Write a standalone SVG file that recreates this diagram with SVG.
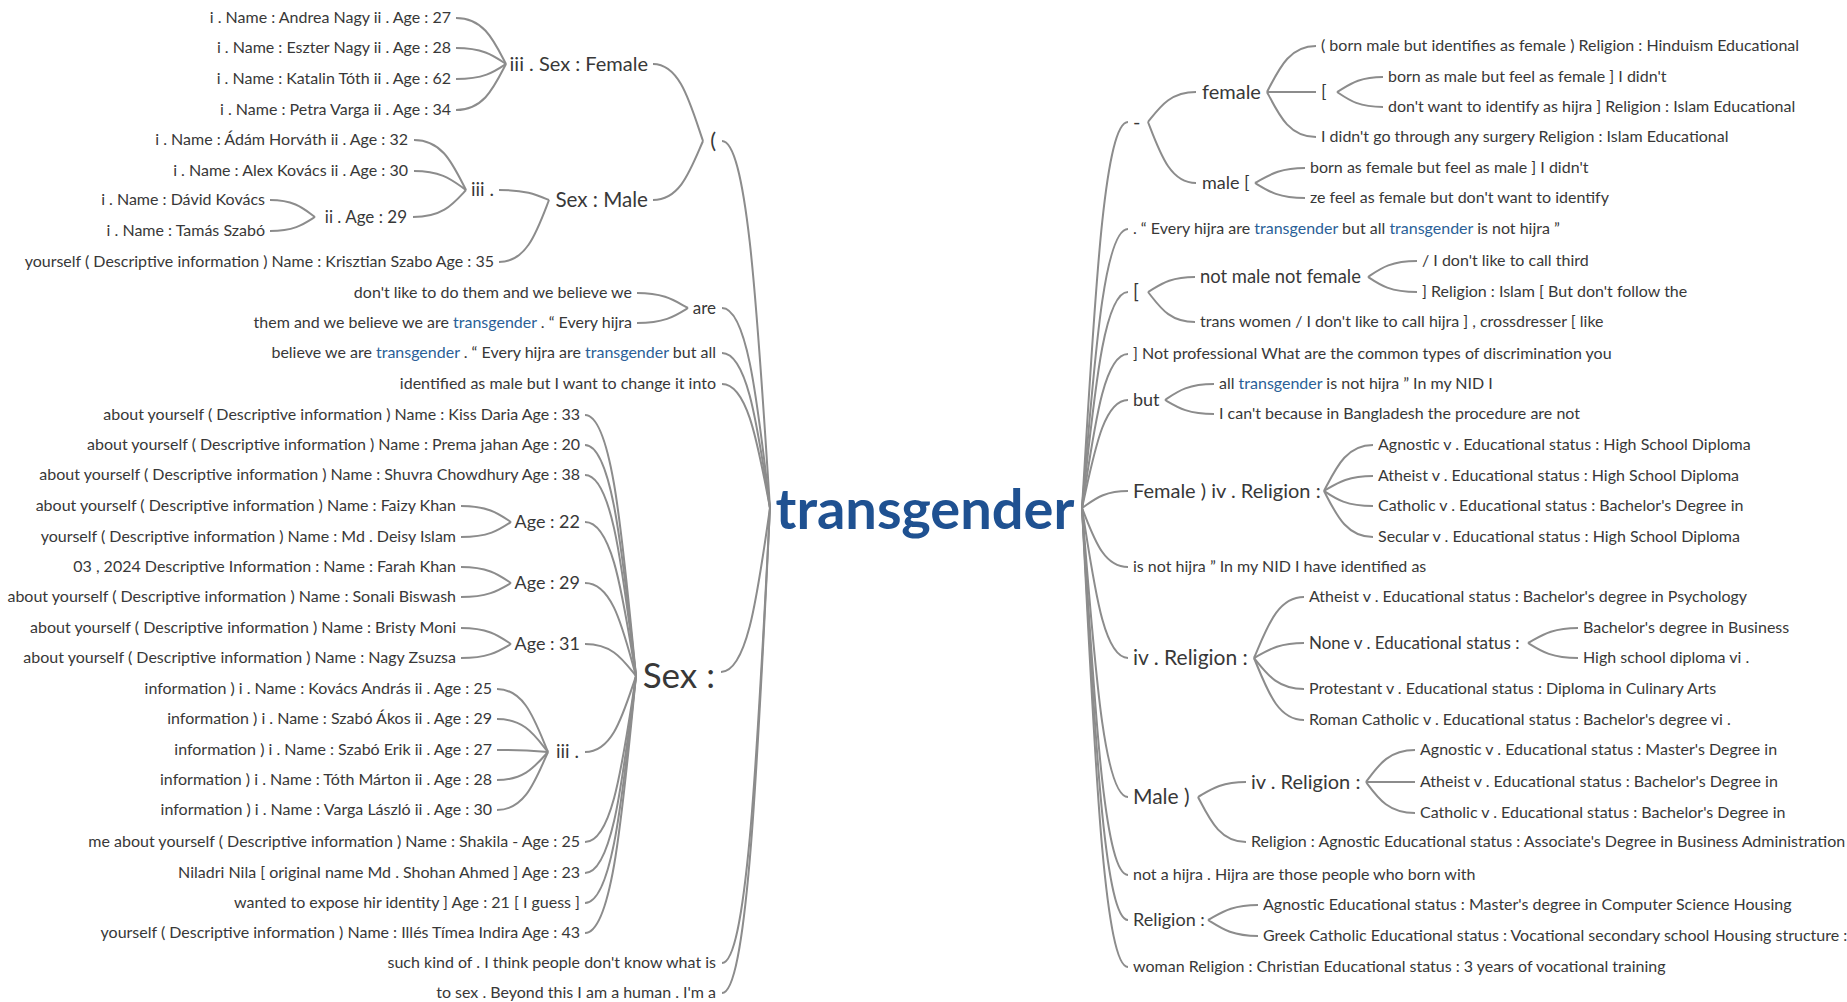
<svg xmlns="http://www.w3.org/2000/svg" width="1847" height="1002" viewBox="0 0 1847 1002">
<style>
text{font-family:Lato,"Liberation Sans",sans-serif;fill:#383838;font-size:16px}
.L{text-anchor:end}
.s17{font-size:17px}.s18{font-size:18px}.s19{font-size:19px}.s20{font-size:20px}.s21{font-size:21px}.s22{font-size:22px}
.hl{fill:#2a5f98}
.ctr{font-size:56px;font-weight:bold;fill:#1f5191}
#connectors path{fill:none;stroke:#8c8c8c;stroke-width:2}
</style>
<rect width="1847" height="1002" fill="#ffffff"/>
<g id="connectors">
<path d="M770,508 C758,325 748,141 722,141"/>
<path d="M770,508 C758,408 748,308 722,308"/>
<path d="M770,508 C758,431 748,353 722,353"/>
<path d="M770,508 C758,446 748,384 722,384"/>
<path d="M770,508 C758,590 748,672 721,672"/>
<path d="M770,508 C758,736 748,963 722,963"/>
<path d="M770,508 C758,751 748,993 722,993"/>
<path d="M703,141 C690,103 680,64 653,64"/>
<path d="M703,141 C690,171 680,200 653,200"/>
<path d="M506,64 C494,41 484,18 456,18"/>
<path d="M506,64 C494,56 484,48 456,48"/>
<path d="M506,64 C494,72 484,79 456,79"/>
<path d="M506,64 C494,87 484,110 456,110"/>
<path d="M549,200 C537,195 527,190 499,190"/>
<path d="M549,200 C537,231 527,262 499,262"/>
<path d="M466,190 C453,165 443,140 414,140"/>
<path d="M466,190 C453,181 443,171 414,171"/>
<path d="M466,190 C453,204 443,217 413,217"/>
<path d="M315,217 C304,209 295,200 270,200"/>
<path d="M315,217 C304,224 295,231 270,231"/>
<path d="M688,308 C675,301 665,293 637,293"/>
<path d="M688,308 C675,316 665,323 637,323"/>
<path d="M636,676 C623,546 613,415 585,415"/>
<path d="M636,676 C623,561 613,445 585,445"/>
<path d="M636,676 C623,576 613,475 585,475"/>
<path d="M636,676 C623,599 613,522 585,522"/>
<path d="M636,676 C623,630 613,583 585,583"/>
<path d="M636,676 C623,660 613,644 585,644"/>
<path d="M636,676 C623,714 613,752 585,752"/>
<path d="M636,676 C623,759 613,842 585,842"/>
<path d="M636,676 C623,775 613,873 585,873"/>
<path d="M636,676 C623,790 613,903 585,903"/>
<path d="M636,676 C623,805 613,933 585,933"/>
<path d="M511,522 C499,514 489,506 461,506"/>
<path d="M511,522 C499,530 489,537 461,537"/>
<path d="M511,583 C499,575 489,567 461,567"/>
<path d="M511,583 C499,590 489,597 461,597"/>
<path d="M511,644 C499,636 489,628 461,628"/>
<path d="M511,644 C499,651 489,658 461,658"/>
<path d="M548,752 C535,721 525,689 497,689"/>
<path d="M548,752 C535,736 525,719 497,719"/>
<path d="M548,752 C535,751 525,750 497,750"/>
<path d="M548,752 C535,766 525,780 497,780"/>
<path d="M548,752 C535,781 525,810 497,810"/>
<path d="M1082,508 C1094,315 1103,122 1128,122"/>
<path d="M1082,508 C1094,369 1103,229 1128,229"/>
<path d="M1082,508 C1094,400 1103,292 1128,292"/>
<path d="M1082,508 C1094,431 1103,354 1128,354"/>
<path d="M1082,508 C1094,454 1103,400 1128,400"/>
<path d="M1082,508 C1094,500 1103,491 1128,491"/>
<path d="M1082,508 C1094,538 1103,567 1128,567"/>
<path d="M1082,508 C1094,583 1103,658 1128,658"/>
<path d="M1082,508 C1094,653 1103,797 1128,797"/>
<path d="M1082,508 C1094,692 1103,875 1128,875"/>
<path d="M1082,508 C1094,714 1103,920 1128,920"/>
<path d="M1082,508 C1094,738 1103,967 1128,967"/>
<path d="M1148,122 C1160,107 1170,92 1196,92"/>
<path d="M1148,122 C1160,153 1170,183 1196,183"/>
<path d="M1267,92 C1279,69 1289,46 1316,46"/>
<path d="M1267,92 L1316,92"/>
<path d="M1267,92 C1279,115 1289,137 1316,137"/>
<path d="M1337,92 C1349,85 1358,77 1383,77"/>
<path d="M1337,92 C1349,100 1358,107 1383,107"/>
<path d="M1255,183 C1268,176 1278,168 1305,168"/>
<path d="M1255,183 C1268,191 1278,198 1305,198"/>
<path d="M1148,292 C1160,285 1169,277 1195,277"/>
<path d="M1148,292 C1160,307 1169,322 1195,322"/>
<path d="M1368,277 C1380,269 1390,261 1417,261"/>
<path d="M1368,277 C1380,285 1390,292 1417,292"/>
<path d="M1165,400 C1177,392 1187,384 1214,384"/>
<path d="M1165,400 C1177,407 1187,414 1214,414"/>
<path d="M1324,491 C1336,468 1346,445 1373,445"/>
<path d="M1324,491 C1336,484 1346,476 1373,476"/>
<path d="M1324,491 C1336,499 1346,506 1373,506"/>
<path d="M1324,491 C1336,514 1346,537 1373,537"/>
<path d="M1254,658 C1267,628 1277,597 1304,597"/>
<path d="M1254,658 C1267,651 1277,643 1304,643"/>
<path d="M1254,658 C1267,674 1277,689 1304,689"/>
<path d="M1254,658 C1267,689 1277,720 1304,720"/>
<path d="M1528,643 C1541,636 1551,628 1578,628"/>
<path d="M1528,643 C1541,651 1551,658 1578,658"/>
<path d="M1198,797 C1210,790 1220,782 1246,782"/>
<path d="M1198,797 C1210,820 1220,842 1246,842"/>
<path d="M1366,782 C1378,766 1388,750 1415,750"/>
<path d="M1366,782 L1415,782"/>
<path d="M1366,782 C1378,798 1388,813 1415,813"/>
<path d="M1208,920 C1221,913 1231,905 1258,905"/>
<path d="M1208,920 C1221,928 1231,936 1258,936"/>
</g>

<g id="n-center"><text class="ctr" x="925" y="529" text-anchor="middle">transgender</text></g>

<g id="n-paren"><text class="L s22" x="716" y="148">(</text></g>
<g id="n-sexfemale"><text class="L s20" x="648" y="71">iii . Sex : Female</text></g>
<g id="n-f1"><text class="L" x="451" y="23">i . Name : Andrea Nagy ii . Age : 27</text></g>
<g id="n-f2"><text class="L" x="451" y="53">i . Name : Eszter Nagy ii . Age : 28</text></g>
<g id="n-f3"><text class="L" x="451" y="84">i . Name : Katalin Tóth ii . Age : 62</text></g>
<g id="n-f4"><text class="L" x="451" y="115">i . Name : Petra Varga ii . Age : 34</text></g>
<g id="n-sexmale"><text class="L" style="font-size:20.6px" x="648" y="207">Sex : Male</text></g>
<g id="n-iii1"><text class="L s19" x="494" y="196">iii .</text></g>
<g id="n-m1"><text class="L" x="408" y="145">i . Name : Ádám Horváth ii . Age : 32</text></g>
<g id="n-m2"><text class="L" x="408" y="176">i . Name : Alex Kovács ii . Age : 30</text></g>
<g id="n-age29a"><text class="L s17" x="407" y="223">ii . Age : 29</text></g>
<g id="n-m3"><text class="L" x="265" y="205">i . Name : Dávid Kovács</text></g>
<g id="n-m4"><text class="L" x="265" y="236">i . Name : Tamás Szabó</text></g>
<g id="n-m5"><text class="L" x="494" y="267">yourself ( Descriptive information ) Name : Krisztian Szabo Age : 35</text></g>
<g id="n-are"><text class="L s17" x="716" y="314">are</text></g>
<g id="n-are1"><text class="L" x="632" y="298">don't like to do them and we believe we</text></g>
<g id="n-are2"><text class="L" x="632" y="328">them and we believe we are <tspan class="hl">transgender</tspan> . “ Every hijra</text></g>
<g id="n-believe"><text class="L" x="716" y="358">believe we are <tspan class="hl">transgender</tspan> . “ Every hijra are <tspan class="hl">transgender</tspan> but all</text></g>
<g id="n-identified"><text class="L" x="716" y="389">identified as male but I want to change it into</text></g>
<g id="n-sex"><text class="L" style="font-size:35px" x="715" y="688">Sex :</text></g>
<g id="n-s1"><text class="L" x="580" y="420">about yourself ( Descriptive information ) Name : Kiss Daria Age : 33</text></g>
<g id="n-s2"><text class="L" x="580" y="450">about yourself ( Descriptive information ) Name : Prema jahan Age : 20</text></g>
<g id="n-s3"><text class="L" x="580" y="480">about yourself ( Descriptive information ) Name : Shuvra Chowdhury Age : 38</text></g>
<g id="n-age22"><text class="L s18" x="580" y="528">Age : 22</text></g>
<g id="n-s4"><text class="L" x="456" y="511">about yourself ( Descriptive information ) Name : Faizy Khan</text></g>
<g id="n-s5"><text class="L" x="456" y="542">yourself ( Descriptive information ) Name : Md . Deisy Islam</text></g>
<g id="n-age29b"><text class="L s18" x="580" y="589">Age : 29</text></g>
<g id="n-s6"><text class="L" x="456" y="572">03 , 2024 Descriptive Information : Name : Farah Khan</text></g>
<g id="n-s7"><text class="L" x="456" y="602">about yourself ( Descriptive information ) Name : Sonali Biswash</text></g>
<g id="n-age31"><text class="L s18" x="580" y="650">Age : 31</text></g>
<g id="n-s8"><text class="L" x="456" y="633">about yourself ( Descriptive information ) Name : Bristy Moni</text></g>
<g id="n-s9"><text class="L" x="456" y="663">about yourself ( Descriptive information ) Name : Nagy Zsuzsa</text></g>
<g id="n-iii2"><text class="L s19" x="579" y="758">iii .</text></g>
<g id="n-s10"><text class="L" x="492" y="694">information ) i . Name : Kovács András ii . Age : 25</text></g>
<g id="n-s11"><text class="L" x="492" y="724">information ) i . Name : Szabó Ákos ii . Age : 29</text></g>
<g id="n-s12"><text class="L" x="492" y="755">information ) i . Name : Szabó Erik ii . Age : 27</text></g>
<g id="n-s13"><text class="L" x="492" y="785">information ) i . Name : Tóth Márton ii . Age : 28</text></g>
<g id="n-s14"><text class="L" x="492" y="815">information ) i . Name : Varga László ii . Age : 30</text></g>
<g id="n-s15"><text class="L" x="580" y="847">me about yourself ( Descriptive information ) Name : Shakila - Age : 25</text></g>
<g id="n-s16"><text class="L" x="580" y="878">Niladri Nila [ original name Md . Shohan Ahmed ] Age : 23</text></g>
<g id="n-s17"><text class="L" x="580" y="908">wanted to expose hir identity ] Age : 21 [ I guess ]</text></g>
<g id="n-s18"><text class="L" x="580" y="938">yourself ( Descriptive information ) Name : Illés Tímea Indira Age : 43</text></g>
<g id="n-such"><text class="L" x="716" y="968">such kind of . I think people don't know what is</text></g>
<g id="n-tosex"><text class="L" x="716" y="998">to sex . Beyond this I am a human . I'm a</text></g>

<g id="n-dash"><text class="s20" x="1133" y="129">-</text></g>
<g id="n-female"><text class="s20" x="1202" y="99">female</text></g>
<g id="n-r1"><text x="1321" y="51">( born male but identifies as female ) Religion : Hinduism Educational</text></g>
<g id="n-brk1"><text class="s18" x="1321" y="98">[</text></g>
<g id="n-r2"><text x="1388" y="82">born as male but feel as female ] I didn't</text></g>
<g id="n-r3"><text x="1388" y="112">don't want to identify as hijra ] Religion : Islam Educational</text></g>
<g id="n-r4"><text x="1321" y="142">I didn't go through any surgery Religion : Islam Educational</text></g>
<g id="n-male"><text class="s18" x="1202" y="189">male [</text></g>
<g id="n-r5"><text x="1310" y="173">born as female but feel as male ] I didn't</text></g>
<g id="n-r6"><text x="1310" y="203">ze feel as female but don't want to identify</text></g>
<g id="n-every"><text x="1133" y="234">. “ Every hijra are <tspan class="hl">transgender</tspan> but all <tspan class="hl">transgender</tspan> is not hijra ”</text></g>
<g id="n-brk2"><text class="s19" x="1133" y="298">[</text></g>
<g id="n-nmnf"><text style="font-size:18.4px" x="1200" y="283">not male not female</text></g>
<g id="n-r7"><text x="1422" y="266">/ I don't like to call third</text></g>
<g id="n-r8"><text x="1422" y="297">] Religion : Islam [ But don't follow the</text></g>
<g id="n-r9"><text x="1200" y="327">trans women / I don't like to call hijra ] , crossdresser [ like</text></g>
<g id="n-notprof"><text x="1133" y="359">] Not professional What are the common types of discrimination you</text></g>
<g id="n-but"><text class="s18" x="1133" y="406">but</text></g>
<g id="n-r10"><text x="1219" y="389">all <tspan class="hl">transgender</tspan> is not hijra ” In my NID I</text></g>
<g id="n-r11"><text x="1219" y="419">I can't because in Bangladesh the procedure are not</text></g>
<g id="n-femrel"><text class="s20" x="1133" y="498">Female ) iv . Religion :</text></g>
<g id="n-r12"><text x="1378" y="450">Agnostic v . Educational status : High School Diploma</text></g>
<g id="n-r13"><text x="1378" y="481">Atheist v . Educational status : High School Diploma</text></g>
<g id="n-r14"><text x="1378" y="511">Catholic v . Educational status : Bachelor's Degree in</text></g>
<g id="n-r15"><text x="1378" y="542">Secular v . Educational status : High School Diploma</text></g>
<g id="n-isnot"><text x="1133" y="572">is not hijra ” In my NID I have identified as</text></g>
<g id="n-ivrel1"><text class="s21" x="1133" y="665">iv . Religion :</text></g>
<g id="n-r16"><text x="1309" y="602">Atheist v . Educational status : Bachelor's degree in Psychology</text></g>
<g id="n-none"><text class="s17" x="1309" y="649">None v . Educational status :</text></g>
<g id="n-r17"><text x="1583" y="633">Bachelor's degree in Business</text></g>
<g id="n-r18"><text x="1583" y="663">High school diploma vi .</text></g>
<g id="n-r19"><text x="1309" y="694">Protestant v . Educational status : Diploma in Culinary Arts</text></g>
<g id="n-r20"><text x="1309" y="725">Roman Catholic v . Educational status : Bachelor's degree vi .</text></g>
<g id="n-maleparen"><text class="s21" x="1133" y="804">Male )</text></g>
<g id="n-ivrel2"><text class="s20" x="1251" y="789">iv . Religion :</text></g>
<g id="n-r21"><text x="1420" y="755">Agnostic v . Educational status : Master's Degree in</text></g>
<g id="n-r22"><text x="1420" y="787">Atheist v . Educational status : Bachelor's Degree in</text></g>
<g id="n-r23"><text x="1420" y="818">Catholic v . Educational status : Bachelor's Degree in</text></g>
<g id="n-r24"><text x="1251" y="847">Religion : Agnostic Educational status : Associate's Degree in Business Administration</text></g>
<g id="n-notahijra"><text x="1133" y="880">not a hijra . Hijra are those people who born with</text></g>
<g id="n-religion"><text class="s18" x="1133" y="926">Religion :</text></g>
<g id="n-r25"><text x="1263" y="910">Agnostic Educational status : Master's degree in Computer Science Housing</text></g>
<g id="n-r26"><text x="1263" y="941">Greek Catholic Educational status : Vocational secondary school Housing structure :</text></g>
<g id="n-woman"><text x="1133" y="972">woman Religion : Christian Educational status : 3 years of vocational training</text></g>
</svg>
